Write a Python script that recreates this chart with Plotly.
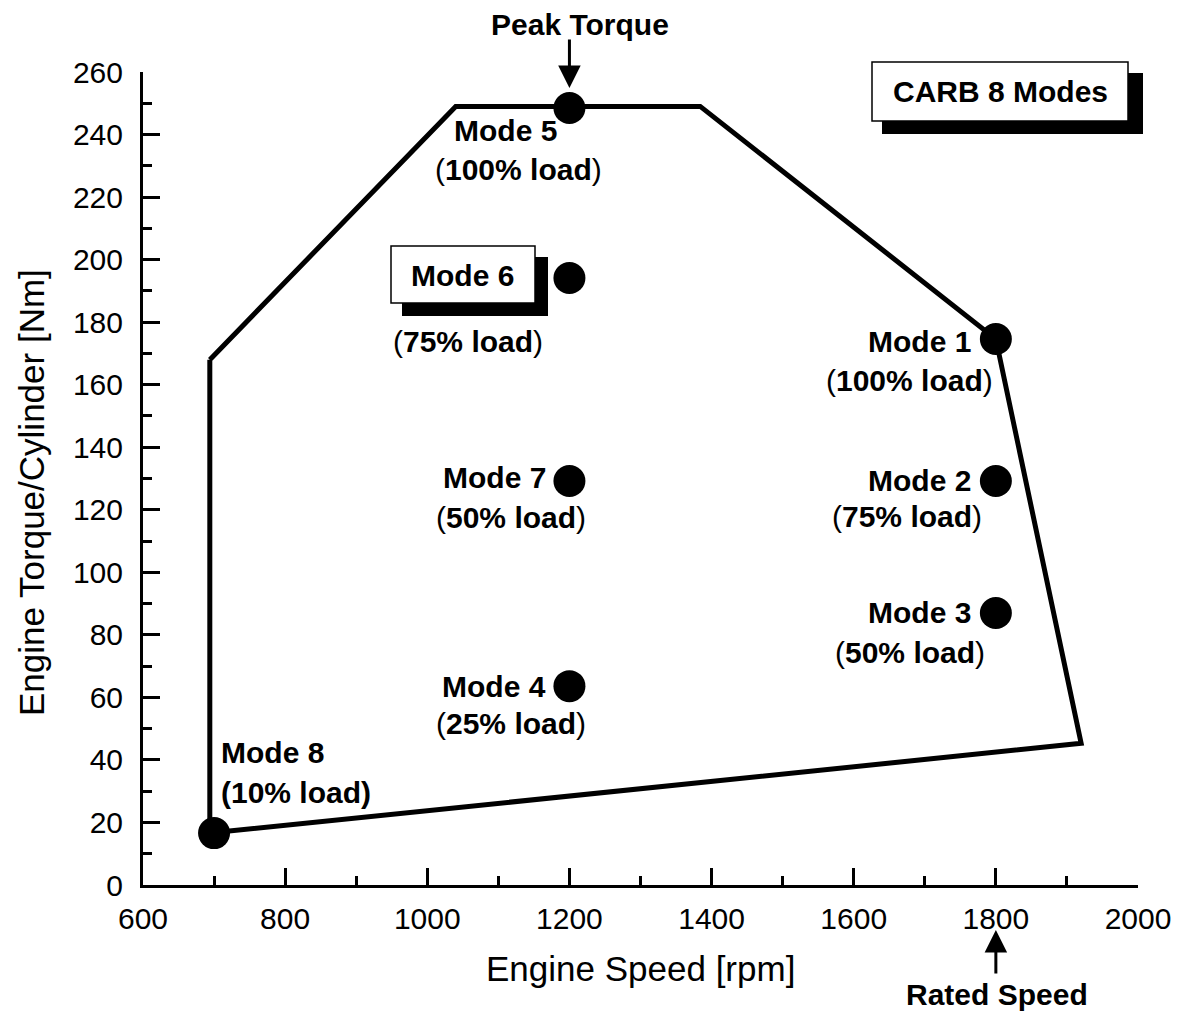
import plotly.graph_objects as go

# Operating envelope (engine speed rpm, torque Nm)
envelope_speed = [694, 1040, 1384, 1800, 1920, 700, 694, 694]
envelope_torque = [168, 249, 249, 174.6, 45.3, 16.6, 16.6, 168]

# CARB 8 mode points
mode_names = ["Mode 1", "Mode 2", "Mode 3", "Mode 4", "Mode 5", "Mode 6", "Mode 7", "Mode 8"]
mode_speed = [1800, 1800, 1800, 1200, 1200, 1200, 1200, 700]
mode_torque = [174.6, 129.2, 87.0, 63.6, 248.5, 194.1, 129.2, 16.6]
mode_load = ["100% load", "75% load", "50% load", "25% load", "100% load", "75% load", "50% load", "10% load"]

FONT = "Liberation Sans, Arial, Helvetica, sans-serif"
W, H = 1178, 1013
ML, MR, MT, MB = 143, 40, 72, 128

# window pixel geometry of the plot area
PX0, PX1, PY0, PY1 = ML, W - MR, MT, H - MB

fig = go.Figure()
fig.add_trace(go.Scatter(x=envelope_speed, y=envelope_torque, mode="lines",
                         line=dict(color="black", width=5), hoverinfo="skip",
                         showlegend=False))
fig.add_trace(go.Scatter(x=mode_speed, y=mode_torque, mode="markers",
                         marker=dict(color="black", size=32), text=mode_names,
                         showlegend=False, cliponaxis=False))

def pxx(px):
    return (px - PX0) / (PX1 - PX0)

def pxy(py):
    return (PY1 - py) / (PY1 - PY0)

def box(x0, y0, x1, y1, fill, lw):
    fig.add_shape(type="rect", xref="paper", yref="paper",
                  x0=pxx(x0), y0=pxy(y1), x1=pxx(x1), y1=pxy(y0),
                  fillcolor=fill, line=dict(color="black", width=lw), layer="above")

# shadowed boxes
box(882, 73, 1143, 134, "black", 0)
box(872, 62, 1128, 121, "white", 1.5)
box(402, 257, 548, 316, "black", 0)
box(391, 246, 535, 303, "white", 1.5)

labels = [
    # text, x, y, xanchor
    ("<b>Mode 5</b>", 1110, 241.4, "center"),
    ("(<b>100% load</b>)", 1129, 228.7, "center"),
    ("<b>Mode 6</b>", 1050, 195.0, "center"),
    ("(<b>75% load</b>)", 1057, 173.7, "center"),
    ("<b>Mode 7</b>", 1094, 130.2, "center"),
    ("(<b>50% load</b>)", 1118, 117.4, "center"),
    ("<b>Mode 4</b>", 1094, 63.6, "center"),
    ("(<b>25% load</b>)", 1118, 51.8, "center"),
    ("<b>Mode 1</b>", 1692, 173.7, "center"),
    ("(<b>100% load</b>)", 1678, 161.2, "center"),
    ("<b>Mode 2</b>", 1693, 129.5, "center"),
    ("(<b>75% load</b>)", 1675, 117.7, "center"),
    ("<b>Mode 3</b>", 1693, 87.3, "center"),
    ("(<b>50% load</b>)", 1679, 74.5, "center"),
    ("<b>Mode 8</b>", 707, 42.5, "left"),
    ("<b>(10% load)</b>", 707, 29.7, "left"),
    ("<b>CARB 8 Modes</b>", 1806, 253.9, "center"),
]
for t, x, y, xa in labels:
    fig.add_annotation(x=x, y=y, text=t, showarrow=False, xanchor=xa, yanchor="middle",
                       font=dict(family=FONT, size=30, color="black"))

# callouts outside the plot area
fig.add_annotation(x=1215, y=pxy(25), yref="paper", text="<b>Peak Torque</b>", showarrow=False,
                   xanchor="center", yanchor="middle", font=dict(family=FONT, size=30, color="black"))
fig.add_annotation(x=1802, y=pxy(994), yref="paper", text="<b>Rated Speed</b>", showarrow=False,
                   xanchor="center", yanchor="middle", font=dict(family=FONT, size=30, color="black"))
fig.add_annotation(x=1200, y=pxy(88), yref="paper", ax=0, ay=-50, text="", showarrow=True,
                   arrowhead=2, arrowsize=1.5, arrowwidth=3, arrowcolor="black")
fig.add_annotation(x=1800, y=pxy(930), yref="paper", ax=0, ay=45, text="", showarrow=True,
                   arrowhead=2, arrowsize=1.5, arrowwidth=3, arrowcolor="black")

# axis titles
fig.add_annotation(x=pxx(640), y=pxy(968), xref="paper", yref="paper", text="Engine Speed [rpm]",
                   showarrow=False, xanchor="center", yanchor="middle",
                   font=dict(family=FONT, size=35, color="black"))
fig.add_annotation(x=pxx(31), y=pxy(493), xref="paper", yref="paper", text="Engine Torque/Cylinder [Nm]",
                   showarrow=False, xanchor="center", yanchor="middle", textangle=-90,
                   font=dict(family=FONT, size=35, color="black"))

axis_common = dict(showgrid=False, zeroline=False, showline=True, linecolor="black",
                   linewidth=3, ticks="inside", ticklen=17, tickwidth=3, tickcolor="black",
                   tickfont=dict(family=FONT, size=30, color="black"), mirror=False,
                   ticklabeloverflow="allow")

fig.update_xaxes(range=[600, 2000], dtick=200, tick0=600,
                 minor=dict(dtick=100, ticks="inside", ticklen=9, tickwidth=3, tickcolor="black"),
                 ticklabelstandoff=5,
                 **axis_common)
fig.update_yaxes(range=[0, 260], dtick=20, tick0=0,
                 minor=dict(dtick=10, ticks="inside", ticklen=9, tickwidth=3, tickcolor="black"),
                 ticklabelstandoff=11,
                 **axis_common)

fig.update_layout(width=W, height=H, margin=dict(l=ML, r=MR, t=MT, b=MB, autoexpand=False),
                  paper_bgcolor="white", plot_bgcolor="white", showlegend=False,
                  font=dict(family=FONT, color="black"))

fig.write_html("out.html", config={"displayModeBar": False},
               post_script="document.body.style.margin='0';document.body.style.overflow='hidden';")
